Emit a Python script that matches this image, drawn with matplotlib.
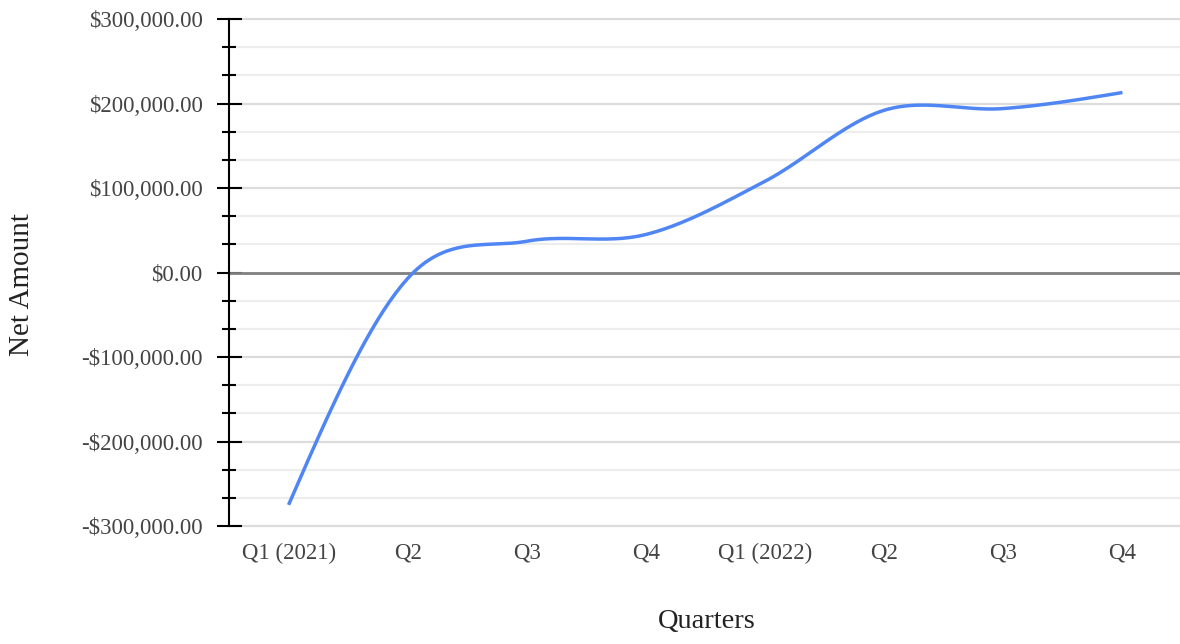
import numpy as np
import matplotlib
matplotlib.use("Agg")
import matplotlib.pyplot as plt
from matplotlib.ticker import FuncFormatter, MultipleLocator

# Quarterly net amounts
quarters = ["Q1 (2021)", "Q2", "Q3", "Q4", "Q1 (2022)", "Q2", "Q3", "Q4"]
net_amount = [-275000, -7000, 37000, 45000, 108000, 192000, 194000, 213000]

y_min, y_max = -300000, 300000
major_step = 100000
minor_step = 100000 / 3


def smooth_curve(x, y, samples=40):
    """Cardinal spline through every point, with zero curvature at both ends."""
    x = np.asarray(x, float)
    y = np.asarray(y, float)
    n = len(y)
    m = np.empty(n)
    m[1:-1] = (y[2:] - y[:-2]) / 2.0
    m[0] = (3 * (y[1] - y[0]) - m[1]) / 2.0
    m[-1] = (3 * (y[-1] - y[-2]) - m[-2]) / 2.0
    xs, ys = [], []
    for i in range(n - 1):
        t = np.linspace(0, 1, samples, endpoint=(i == n - 2))
        h00 = 2 * t**3 - 3 * t**2 + 1
        h10 = t**3 - 2 * t**2 + t
        h01 = -2 * t**3 + 3 * t**2
        h11 = t**3 - t**2
        ys.append(h00 * y[i] + h10 * m[i] + h01 * y[i + 1] + h11 * m[i + 1])
        xs.append(x[i] + t * (x[i + 1] - x[i]))
    return np.concatenate(xs), np.concatenate(ys)


plt.rcParams["font.family"] = ["Liberation Serif", "DejaVu Serif"]

W, H = 1180, 644
fig = plt.figure(figsize=(W / 100, H / 100), dpi=100)
left, right, top, bottom = 229, 1182, 19, 526
ax = fig.add_axes([left / W, 1 - bottom / H, (right - left) / W, (bottom - top) / H])

x = np.arange(len(quarters))
sx, sy = smooth_curve(x, net_amount)

ax.set_xlim(-0.5, len(quarters) - 0.5)
ax.set_ylim(y_min, y_max)

# gridlines
for v in np.arange(y_min, y_max + 1, minor_step):
    if abs(v) < 1:
        continue
    is_major = abs(v / major_step - round(v / major_step)) < 1e-6
    ax.axhline(v, color="#dcdcdc" if is_major else "#ededed", lw=1.6, zorder=1,
               clip_on=False)
ax.axhline(0, color="#7f7f7f", lw=2.0, zorder=2)

ax.plot(sx, sy, color="#4f86f4", lw=2.5, zorder=3, solid_capstyle="butt")

ax.yaxis.set_major_locator(MultipleLocator(major_step))
ax.yaxis.set_minor_locator(MultipleLocator(minor_step))


def money(v, pos):
    s = f"${abs(v):,.2f}"
    return "-" + s if v < -0.5 else s


ax.yaxis.set_major_formatter(FuncFormatter(money))
ax.tick_params(axis="y", which="major", direction="inout", length=18, width=1.5,
               color="black", labelsize=16.5, labelcolor="#444444", pad=10)
ax.tick_params(axis="y", which="minor", direction="inout", length=9.5, width=1.5,
               color="black")

ax.set_xticks(x)
ax.set_xticklabels(quarters)
ax.tick_params(axis="x", length=0, labelsize=16.5, labelcolor="#444444", pad=12)

for s in ["top", "right", "bottom"]:
    ax.spines[s].set_visible(False)
ax.spines["left"].set_color("black")
ax.spines["left"].set_linewidth(1.5)
ax.spines["left"].set_zorder(4)

fig.text(707 / W, 1 - 622 / H, "Quarters", ha="center", va="center",
         fontsize=20.5, color="#222222")
fig.text(22 / W, 1 - 285 / H, "Net Amount", ha="center", va="center",
         rotation=90, fontsize=21, color="#222222")

fig.savefig("out.png", dpi=100, facecolor="white")
